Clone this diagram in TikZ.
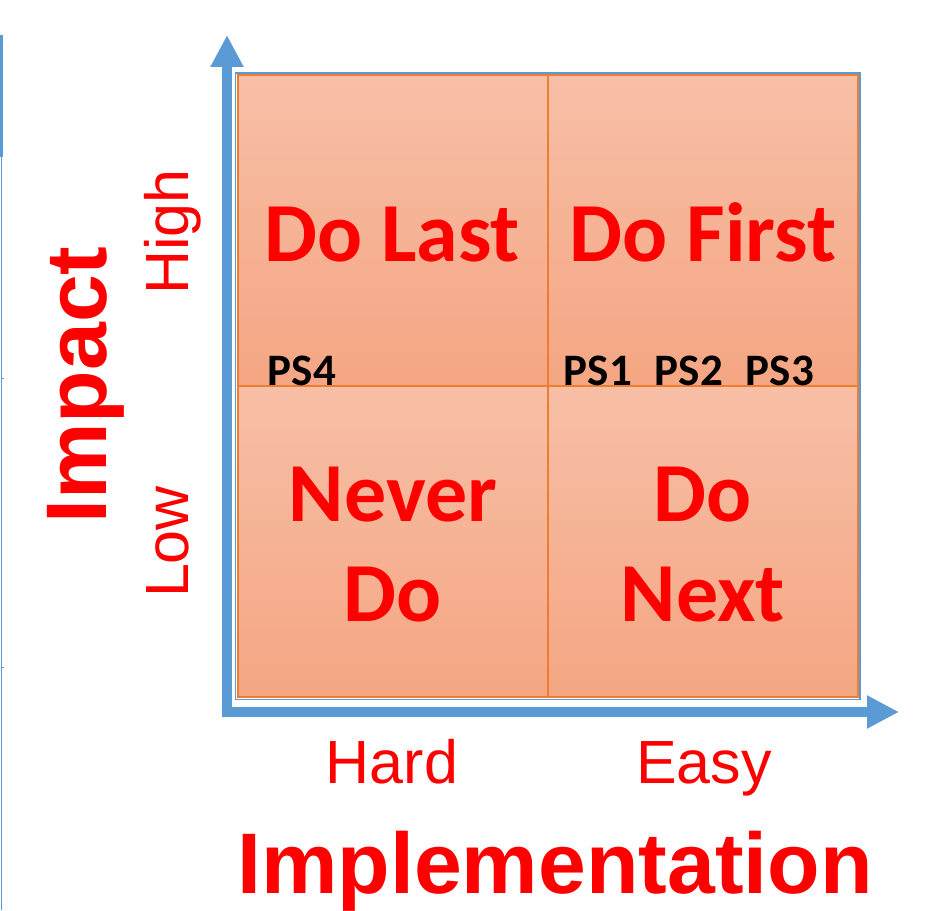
\documentclass[tikz,border=0pt]{standalone}
\usepackage{fontspec}
\usetikzlibrary{arrows.meta}

\newfontfamily\quadfont{Carlito}
\newfontfamily\axisfont{Liberation Sans}

\definecolor{axisblue}{RGB}{91,155,213}
\definecolor{quadedge}{RGB}{237,125,49}
\definecolor{quadtop}{RGB}{247,191,166}
\definecolor{quadbottom}{RGB}{245,166,131}

\tikzset{
    quad/.style={draw=quadedge, line width=1.6pt, top color=quadtop, bottom color=quadbottom,
        minimum width=310pt, minimum height=311pt, inner sep=0pt, anchor=south west},
    quadtext/.style={text=red, anchor=base, inner sep=0pt, font=\quadfont\bfseries\fontsize{84}{84}\selectfont},
    pslabel/.style={anchor=base, inner sep=0pt, font=\quadfont\bfseries\fontsize{45}{45}\selectfont},
    axislabel/.style={text=red, anchor=base, inner sep=0pt, font=\axisfont\fontsize{61}{61}\selectfont},
    axistitle/.style={text=red, anchor=base, inner sep=0pt, font=\axisfont\bfseries\fontsize{86}{86}\selectfont},
}

\begin{document}
\begin{tikzpicture}[x=1pt, y=1pt]
    \useasboundingbox (0,0) rectangle (925,910);

    % rule down the left margin
    \fill[axisblue] (0,753) rectangle (3,875);
    \draw[axisblue, line width=1.2pt] (1.2,875) -- (1.2,0);
    \foreach \y in {532,243} {
        \draw[axisblue, line width=0.8pt] (1.2,\y) -- (4,\y);
    }

    % the four boxes and the frame round them
    \node[quad] (lastq) at (237,523) {};
    \node[quad] (firstq) at (547,523) {};
    \node[quad] (neverq) at (237,212) {};
    \node[quad] (nextq) at (547,212) {};
    \draw[axisblue, line width=1.6pt] (neverq.south west) ++(-1.6,-1.6) rectangle ([shift={(1.6,1.6)}]firstq.north east);

    % axes
    \coordinate (origin) at (227,198);
    \coordinate (ytip) at (227,875);
    \coordinate (xtip) at (899,198);
    \draw[axisblue, line width=10pt, line join=miter,
        {Triangle[width=31pt,length=32pt]}-{Triangle[width=31pt,length=32pt]}] (ytip) -- (origin) -- (xtip);

    % quadrant names
    \node[quadtext] (dolast) at (392,648) {Do Last};
    \node[quadtext] (dofirst) at (703,648) {Do First};
    \node[quadtext] (never) at (393,388) {Never};
    \node[quadtext] (neverdo) at (393,288) {Do};
    \node[quadtext] (donext) at (703,388) {Do};
    \node[quadtext] (next) at (703,288) {Next};

    % problem statements
    \node[pslabel] (ps4) at (302,524) {PS4};
    \foreach \n/\x in {1/598, 2/689, 3/780} {
        \node[pslabel] (ps\n) at (\x,524) {PS\n};
    }

    % axis labels
    \node[axislabel] (hard) at (392,127) {Hard};
    \node[axislabel] (easy) at (704,127) {Easy};
    \node[axislabel, rotate=90] (high) at (188,678) {High};
    \node[axislabel, rotate=90] (low) at (188,368) {Low};
    \node[axistitle] (impl) at (555,17) {Implementation};
    \node[axistitle, rotate=90] (impact) at (106,525) {Impact};
\end{tikzpicture}
\end{document}
